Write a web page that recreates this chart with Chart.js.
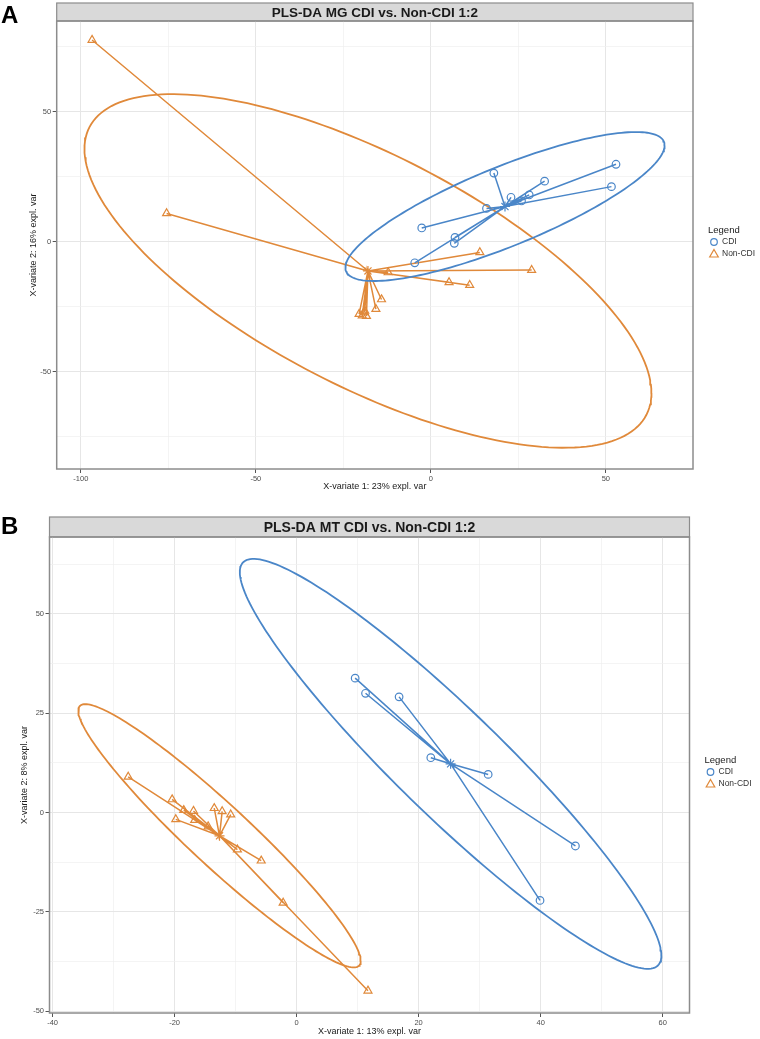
<!DOCTYPE html>
<html>
<head>
<meta charset="utf-8">
<script src="https://cdn.jsdelivr.net/npm/chart.js@4.4.0/dist/chart.umd.min.js"></script>
<style>
  body { margin: 0; background: #fff; width: 760px; height: 1039px; position: relative; overflow: hidden;
         font-family: "Liberation Sans", Arial, sans-serif; }
  canvas { position: absolute; left: 0; }
  .tag { position: absolute; left: 1px; font-weight: bold; font-size: 24px; line-height: 1; color: #000; z-index: 2; }
</style>
</head>
<body>
<canvas id="chartA" width="760" height="500" style="top:0"></canvas>
<canvas id="chartB" width="760" height="539" style="top:500px"></canvas>
<div class="tag" style="top:3px">A</div>
<div class="tag" style="top:514px">B</div>
<script>
// ---- panel A (MG) ----
const cdiA_x = [18.0, 32.5, 52.9, 51.6, 22.9, 28.1, 25.9, 15.9, -2.6, 6.9, 6.7, -4.6];
const cdiA_y = [26.4, 23.3, 29.8, 21.2, 17.1, 18.0, 15.7, 12.8, 5.3, 1.7, -0.6, -8.1];
const nonA_x = [-96.8, -75.5, 14.0, 28.8, 5.2, 11.1, -12.2, -14.1, -15.7, -20.5, -19.6, -19.0, -18.4, -18.9];
const nonA_y = [77.6, 10.9, -4.1, -10.9, -15.6, -16.7, -11.8, -22.2, -25.9, -27.8, -28.4, -27.2, -28.6, -26.6];
// ellipse half-widths (x, y) and correlation
const ellA_cdi = [45.6, 28.65, 0.82];
const ellA_non = [81.0, 68.0, -0.69];
const gridA_x = [-100, -75, -50, -25, 0, 25, 50];
const ticksA_x = [-100, -50, 0, 50];
const gridA_y = [-75, -50, -25, 0, 25, 50, 75];
const ticksA_y = [-50, 0, 50];

// ---- panel B (MT) ----
const cdiB_x = [9.6, 11.3, 16.8, 22.0, 31.4, 45.7, 39.9];
const cdiB_y = [33.8, 30.0, 29.1, 13.8, 9.6, -8.4, -22.1];
const nonB_x = [-27.6, -20.4, -18.5, -16.9, -13.5, -12.2, -10.8, -19.8, -16.7, -14.5, -9.7, -5.8, -2.2, 11.7];
const nonB_y = [9.0, 3.3, 0.6, 0.4, 1.1, 0.3, -0.5, -1.7, -1.9, -3.5, -9.3, -12.1, -22.7, -44.8];
const ellB_cdi = [34.55, 51.55, -0.935];
const ellB_non = [23.15, 33.1, -0.95];
const gridB_x = [-40, -30, -20, -10, 0, 10, 20, 30, 40, 50, 60];
const ticksB_x = [-40, -20, 0, 20, 40, 60];
const gridB_y = [-50, -37.5, -25, -12.5, 0, 12.5, 25, 37.5, 50, 62.5];
const ticksB_y = [-50, -25, 0, 25, 50];

const groups = ["CDI", "Non-CDI"];
const blue = "#4a86c8";
const orange = "#e0893a";

Chart.defaults.font.family = '"Liberation Sans", Arial, sans-serif';

function pts(xs, ys) { return xs.map((x, i) => ({ x: x, y: ys[i] })); }
function mean(a) { return a.reduce((s, v) => s + v, 0) / a.length; }
function spokes(p, c) { const out = []; p.forEach(q => { out.push(c, q); }); return out; }
// confidence ellipse outline around the centroid
function ellipse(c, e) {
    const out = [];
    const s = Math.sqrt(1 - e[2] * e[2]);
    for (let i = 0; i <= 200; i++) {
        const t = i / 200 * 2 * Math.PI;
        out.push({ x: c.x + e[0] * Math.cos(t), y: c.y + e[1] * (e[2] * Math.cos(t) + s * Math.sin(t)) });
    }
    return out;
}

function groupSets(p, e, color, style, r) {
    const c = { x: mean(p.map(q => q.x)), y: mean(p.map(q => q.y)) };
    return [
        { data: p, pointStyle: style, pointRadius: r, pointBorderWidth: 1.2, borderColor: color, backgroundColor: "rgba(0,0,0,0)" },
        { data: [c], pointStyle: "star", pointRadius: 5, pointBorderWidth: 1.2, borderColor: color, backgroundColor: color },
        { data: spokes(p, c), showLine: true, pointRadius: 0, borderColor: color, borderWidth: 1.5 },
        { data: ellipse(c, e), showLine: true, pointRadius: 0, borderColor: color, borderWidth: 1.8 }
    ];
}

function makePanel(id, o) {
    const panelPlugin = {
        id: "panel" + id,
        beforeDraw(chart) {
            const { ctx, chartArea: a } = chart;
            ctx.save();
            ctx.fillStyle = "#d9d9d9";
            ctx.fillRect(a.left, o.stripTop, a.right - a.left, a.top - o.stripTop);
            ctx.strokeStyle = "#8c8c8c";
            ctx.lineWidth = 1.2;
            ctx.strokeRect(a.left, o.stripTop, a.right - a.left, a.top - o.stripTop);
            ctx.fillStyle = "#1a1a1a";
            ctx.font = "bold " + o.titleSize + 'px "Liberation Sans", Arial, sans-serif';
            ctx.textAlign = "center";
            ctx.textBaseline = "middle";
            ctx.fillText(o.title, (a.left + a.right) / 2, (o.stripTop + a.top) / 2 + 1);
            ctx.restore();
        },
        afterDraw(chart) {
            const { ctx, chartArea: a } = chart;
            ctx.save();
            ctx.strokeStyle = "#8c8c8c";
            ctx.lineWidth = 1.5;
            ctx.strokeRect(a.left, a.top, a.right - a.left, a.bottom - a.top);
            // legend
            const lx = a.right + 15;
            const my = (a.top + a.bottom) / 2 - 3;
            ctx.fillStyle = "#1a1a1a";
            ctx.textBaseline = "middle";
            ctx.textAlign = "left";
            ctx.font = '9.5px "Liberation Sans", Arial, sans-serif';
            ctx.fillText("Legend", lx, my - 12);
            ctx.font = '8.5px "Liberation Sans", Arial, sans-serif';
            ctx.lineWidth = 1.2;
            ctx.strokeStyle = blue;
            ctx.beginPath();
            ctx.arc(lx + 6, my, 3.3, 0, 2 * Math.PI);
            ctx.stroke();
            ctx.strokeStyle = orange;
            ctx.beginPath();
            ctx.moveTo(lx + 6, my + 12 - 4.5);
            ctx.lineTo(lx + 6 + 4.3, my + 12 + 3);
            ctx.lineTo(lx + 6 - 4.3, my + 12 + 3);
            ctx.closePath();
            ctx.stroke();
            ctx.fillStyle = "#333";
            ctx.fillText(groups[0], lx + 14, my);
            ctx.fillText(groups[1], lx + 14, my + 12);
            ctx.restore();
        }
    };

    const axis = (grid, major, title, fitFn, titlePad, min, max) => ({
        type: "linear",
        min: min,
        max: max,
        afterBuildTicks: s => { s.ticks = grid.map(v => ({ value: v })); },
        afterFit: fitFn,
        ticks: {
            autoSkip: false, maxRotation: 0, padding: 1.5, color: "#4d4d4d",
            font: { size: 7.5 },
            callback: v => major.includes(v) ? String(v) : ""
        },
        grid: {
            color: c => major.includes(c.tick.value) ? "#e6e6e6" : "#efefef",
            lineWidth: c => major.includes(c.tick.value) ? 1 : 0.7,
            tickLength: 4,
            tickColor: c => major.includes(c.tick.value) ? "#555" : "rgba(0,0,0,0)"
        },
        border: { display: false },
        title: { display: true, text: title, color: "#1a1a1a", font: { size: 9 }, padding: titlePad }
    });

    return new Chart(document.getElementById(id).getContext("2d"), {
        type: "scatter",
        data: {
            datasets: [
                ...groupSets(pts(o.cx, o.cy), o.ce, blue, "circle", 3.8),
                ...groupSets(pts(o.nx, o.ny), o.ne, orange, "triangle", 4.6)
            ]
        },
        options: {
            responsive: false,
            animation: false,
            events: [],
            layout: { padding: { top: o.top, right: o.right, left: 0, bottom: 0 } },
            plugins: { legend: { display: false }, tooltip: { enabled: false } },
            scales: {
                x: axis(o.gx, o.tx, o.xTitle, s => { s.height = o.xH; }, { top: 0, bottom: o.xtPad }, o.xmin, o.xmax),
                y: axis(o.gy, o.ty, o.yTitle, s => { s.width = o.yW; }, { top: o.ytPad, bottom: 0 }, o.ymin, o.ymax)
            }
        },
        plugins: [panelPlugin]
    });
}

makePanel("chartA", {
    title: "PLS-DA MG CDI vs. Non-CDI 1:2", titleSize: 13.5,
    xTitle: "X-variate 1: 23% expl. var",
    yTitle: "X-variate 2: 16% expl. var",
    cx: cdiA_x, cy: cdiA_y, nx: nonA_x, ny: nonA_y, ce: ellA_cdi, ne: ellA_non,
    gx: gridA_x, tx: ticksA_x, gy: gridA_y, ty: ticksA_y,
    xmin: -106.9, xmax: 74.9, ymin: -87.4, ymax: 84.9,
    stripTop: 3, top: 21, right: 67, yW: 56.7, xH: 31, xtPad: 7.6, ytPad: 28
});

makePanel("chartB", {
    title: "PLS-DA MT CDI vs. Non-CDI 1:2", titleSize: 14,
    xTitle: "X-variate 1: 13% expl. var",
    yTitle: "X-variate 2: 8% expl. var",
    cx: cdiB_x, cy: cdiB_y, nx: nonB_x, ny: nonB_y, ce: ellB_cdi, ne: ellB_non,
    gx: gridB_x, tx: ticksB_x, gy: gridB_y, ty: ticksB_y,
    xmin: -40.5, xmax: 64.4, ymin: -50.4, ymax: 69.3,
    stripTop: 17, top: 37, right: 70.5, yW: 49.5, xH: 26, xtPad: 1.6, ytPad: 19
});
</script>
</body>
</html>
